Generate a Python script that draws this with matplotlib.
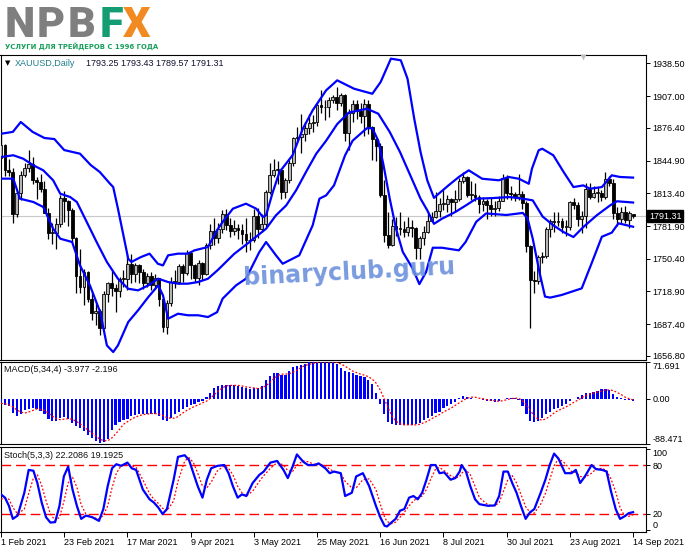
import numpy as np
import matplotlib
matplotlib.use("Agg")
import matplotlib.pyplot as plt

W, H = 691, 549
plt.rcParams["font.family"] = ["Liberation Sans", "DejaVu Sans"]
plt.rcParams["font.size"] = 6.5

BLUE = "#0000ff"
RED = "#ff0000"

# ---- XAUUSD daily bars, 1 Feb 2021 .. 14 Sep 2021 ----
opens = [
    1847, 1860, 1836, 1834, 1793, 1814, 1831, 1838, 1842, 1826,
    1824, 1818, 1794, 1775, 1775, 1784, 1809, 1806, 1797, 1770,
    1734, 1723, 1738, 1712, 1698, 1700, 1684, 1716, 1727, 1722,
    1719, 1731, 1731, 1745, 1736, 1744, 1738, 1727, 1734, 1725,
    1732, 1712, 1685, 1708, 1728, 1728, 1743, 1737, 1756, 1744,
    1732, 1746, 1736, 1764, 1777, 1770, 1779, 1793, 1783, 1777,
    1780, 1778, 1774, 1768, 1768, 1792, 1779, 1784, 1815, 1831,
    1836, 1836, 1815, 1826, 1843, 1867, 1868, 1870, 1876, 1881,
    1882, 1898, 1896, 1896, 1903, 1906, 1900, 1908, 1871, 1891,
    1899, 1893, 1888, 1899, 1877, 1866, 1859, 1812, 1773, 1764,
    1782, 1779, 1779, 1776, 1781, 1780, 1761, 1770, 1776, 1787,
    1791, 1796, 1803, 1803, 1808, 1805, 1808, 1825, 1829, 1812,
    1812, 1810, 1803, 1806, 1802, 1798, 1799, 1806, 1828, 1814,
    1813, 1810, 1813, 1804, 1763, 1730, 1729, 1752, 1753, 1779,
    1787, 1786, 1787, 1781, 1781, 1805, 1802, 1789, 1792, 1818,
    1810, 1814, 1814, 1810, 1827, 1823, 1794, 1789, 1795, 1788,
    1793.25]
highs = [
    1875, 1861, 1846, 1838, 1817, 1835, 1843, 1855, 1848, 1829,
    1832, 1825, 1799, 1785, 1790, 1812, 1816, 1807, 1799, 1771,
    1760, 1741, 1739, 1718, 1708, 1702, 1719, 1728, 1739, 1726,
    1733, 1740, 1755, 1755, 1746, 1745, 1741, 1737, 1738, 1736,
    1732, 1713, 1711, 1733, 1740, 1745, 1745, 1759, 1758, 1745,
    1749, 1747, 1766, 1784, 1790, 1785, 1797, 1798, 1790, 1788,
    1784, 1784, 1790, 1776, 1798, 1799, 1793, 1817, 1843, 1846,
    1844, 1838, 1828, 1845, 1868, 1877, 1890, 1882, 1890, 1889,
    1900, 1913, 1903, 1906, 1908, 1916, 1910, 1909, 1895, 1903,
    1903, 1900, 1904, 1903, 1878, 1868, 1862, 1826, 1795, 1789,
    1791, 1795, 1787, 1791, 1788, 1781, 1772, 1782, 1795, 1795,
    1815, 1809, 1818, 1812, 1809, 1817, 1828, 1834, 1830, 1825,
    1823, 1812, 1810, 1808, 1810, 1806, 1811, 1832, 1831, 1820,
    1815, 1832, 1816, 1806, 1764, 1739, 1754, 1757, 1781, 1789,
    1795, 1795, 1790, 1788, 1806, 1809, 1805, 1796, 1823, 1823,
    1820, 1819, 1817, 1834, 1830, 1827, 1800, 1800, 1801, 1796,
    1793.43]
lows = [
    1846, 1830, 1830, 1785, 1791, 1807, 1829, 1834, 1822, 1808,
    1815, 1794, 1769, 1765, 1760, 1781, 1786, 1782, 1767, 1717,
    1717, 1706, 1709, 1691, 1687, 1677, 1683, 1709, 1715, 1699,
    1714, 1723, 1720, 1727, 1728, 1727, 1721, 1723, 1720, 1721,
    1705, 1680, 1678, 1705, 1722, 1726, 1728, 1735, 1731, 1728,
    1725, 1730, 1735, 1760, 1764, 1766, 1775, 1778, 1771, 1773,
    1769, 1765, 1757, 1759, 1767, 1770, 1776, 1781, 1813, 1829,
    1822, 1808, 1809, 1823, 1840, 1864, 1852, 1864, 1870, 1872,
    1878, 1891, 1884, 1887, 1900, 1894, 1897, 1864, 1855, 1882,
    1885, 1881, 1869, 1870, 1845, 1844, 1810, 1767, 1761, 1763,
    1772, 1773, 1771, 1772, 1771, 1750, 1750, 1764, 1775, 1786,
    1790, 1791, 1797, 1795, 1792, 1795, 1806, 1823, 1810, 1807,
    1806, 1794, 1796, 1789, 1792, 1792, 1796, 1806, 1808, 1807,
    1806, 1807, 1798, 1757, 1684, 1717, 1726, 1746, 1751, 1771,
    1776, 1782, 1775, 1772, 1778, 1798, 1782, 1775, 1780, 1808,
    1809, 1805, 1806, 1808, 1820, 1789, 1782, 1785, 1785, 1780,
    1789.57]
closes = [
    1860, 1836, 1834, 1793, 1814, 1831, 1838, 1842, 1826, 1824,
    1818, 1794, 1775, 1775, 1784, 1809, 1806, 1797, 1770, 1734,
    1723, 1738, 1712, 1698, 1700, 1684, 1716, 1727, 1722, 1719,
    1731, 1731, 1745, 1736, 1744, 1738, 1727, 1734, 1725, 1732,
    1712, 1685, 1708, 1728, 1728, 1743, 1737, 1756, 1744, 1732,
    1746, 1736, 1764, 1777, 1770, 1779, 1793, 1783, 1777, 1780,
    1778, 1774, 1768, 1768, 1792, 1779, 1784, 1815, 1831, 1836,
    1836, 1815, 1826, 1843, 1867, 1868, 1870, 1876, 1881, 1882,
    1898, 1896, 1896, 1903, 1906, 1900, 1908, 1871, 1891, 1899,
    1893, 1888, 1899, 1877, 1866, 1859, 1812, 1773, 1764, 1782,
    1779, 1779, 1776, 1781, 1780, 1761, 1770, 1776, 1787, 1791,
    1796, 1803, 1803, 1808, 1805, 1808, 1825, 1829, 1812, 1812,
    1810, 1803, 1806, 1802, 1798, 1799, 1806, 1828, 1814, 1813,
    1810, 1813, 1804, 1763, 1730, 1729, 1752, 1753, 1779, 1787,
    1786, 1787, 1781, 1781, 1805, 1802, 1789, 1792, 1818, 1810,
    1814, 1814, 1810, 1827, 1823, 1794, 1789, 1795, 1788, 1794,
    1791.31]

# ---- Bollinger bands at bar positions ----
bb_up_x = [0, 3, 5, 8, 11, 13.5, 16, 20, 22.7, 25, 27.6, 28.4, 29.6, 30.9, 32.2, 33,
           35.4, 37.6, 39.7, 41, 42.3, 44.8, 47.3, 49, 52.4, 54.7, 56.1, 58.7, 62,
           64.6, 66.3, 67.1, 68.8, 70.5, 73.8, 76.4, 78.9, 82.3, 85.1, 89.4, 94, 96.1,
           98.7, 101.2, 102.9, 104.6, 106.2, 107.9, 109.6, 110.8, 113.3, 115.9, 118.4,
           121.8, 126, 128.5, 131.1, 133.6, 134.4, 136.1, 137, 139.8, 142.4, 144.9,
           147.4, 149.1, 152.1, 154.6, 156.7, 160]
bb_up = [1870.7, 1872.5, 1882, 1872.5, 1866.6, 1865.6, 1855, 1851.5, 1840.6, 1833.9,
         1822.6, 1819.4, 1798.6, 1774.5, 1750.4, 1747.3, 1752, 1755.3, 1745.6, 1744,
         1753.7, 1755.3, 1755.3, 1758.5, 1761.7, 1778, 1785.8, 1798.6, 1803.4, 1798.6,
         1790.6, 1792.2, 1814.6, 1833.9, 1850, 1875.6, 1893.3, 1912.5, 1922.1, 1914,
         1909.2, 1920.5, 1943, 1941.4, 1923.7, 1885.2, 1853.1, 1825.9, 1809, 1813,
         1821.1, 1829.1, 1835.5, 1827.4, 1825.9, 1829.1, 1827.4, 1822.6, 1837.1,
         1854.8, 1856.3, 1850, 1834, 1819.4, 1821, 1817.8, 1819.4, 1830.7, 1829.1,
         1828.5]
bb_mid_x = [0, 3.1, 5.6, 8.2, 10.7, 13.2, 15, 17.5, 19.2, 21.7, 24.2, 26.8, 29.6, 32.2,
            34.7, 37.3, 39.8, 42.3, 44.8, 47.3, 49.9, 52.4, 55, 59, 62.9, 67.1, 69.6,
            72.2, 74.7, 77.2, 79.8, 82.3, 85.1, 88, 92.6, 95.5, 98.4, 101, 103.6, 106.2,
            107.9, 109.6, 111.6, 115, 117.7, 120.3, 124.5, 128.7, 132.1, 134.6, 137.1,
            139.8, 142.4, 144.9, 147.4, 150.8, 154.2, 155.9, 158.4, 160]
bb_mid = [1848.3, 1850, 1846.7, 1840.3, 1835.5, 1825.9, 1813, 1809.8, 1805, 1785.8,
          1766.5, 1747.3, 1731.2, 1721.5, 1720, 1724.8, 1731.2, 1728, 1726.4, 1726.4,
          1728, 1731.2, 1740, 1755, 1766.5, 1779.3, 1792.2, 1801.8, 1816.3, 1833.9,
          1851.5, 1864, 1880, 1891, 1894.8, 1890, 1872.4, 1853.1, 1830.7, 1808.2, 1797,
          1784, 1788.9, 1795.4, 1801.8, 1808.2, 1808.8, 1809.8, 1808.2, 1806.6, 1791,
          1782.6, 1776.1, 1771.3, 1780.9, 1792.2, 1801.8, 1805.7, 1805, 1804.5]
bb_low_x = [0, 3.1, 4.8, 8.2, 10.7, 13.2, 15, 18, 20, 22.5, 25.1, 26.8, 28.4, 29.6, 32.2,
            34.7, 37.3, 39.8, 41, 42.3, 44.8, 47.3, 49.9, 52.4, 54.7, 56.1, 59.5, 62,
            65.4, 67.1, 69.6, 71.3, 75.5, 78.9, 80.6, 82.3, 84.3, 87.1, 89, 92.6, 94,
            95.5, 96.8, 98.4, 100, 101.7, 104.2, 105.9, 107.6, 109.3, 111.6, 115.9,
            117.6, 120.3, 122.8, 127.9, 132.1, 133.3, 134.6, 136.3, 137.7, 139, 141.9,
            147, 149.5, 152.1, 154.6, 156.3, 160]
bb_low = [1827.5, 1827.5, 1808.2, 1805, 1800.2, 1779.3, 1769.7, 1766.5, 1744, 1724.8,
          1699.1, 1667, 1660.6, 1667, 1689.5, 1700.8, 1713.6, 1724.8, 1715.2, 1692.7,
          1697.5, 1696, 1696, 1694.3, 1699, 1712, 1724.8, 1731.2, 1756.9, 1766.5,
          1753.7, 1745.6, 1753.7, 1782.6, 1808.2, 1811.4, 1821.1, 1850, 1864, 1876,
          1876, 1864, 1841, 1808.2, 1779.3, 1757, 1741, 1726, 1737.6, 1761, 1761,
          1758.5, 1766.5, 1786, 1794, 1792.5, 1794.5, 1789, 1769.7, 1737.6, 1714, 1713,
          1715.5, 1721.9, 1746, 1771.6, 1775.5, 1784.5, 1781.2]

# ---- MACD(5,34,4): histogram per bar and signal line ----
macd_hist = [
    -10, -12, -15, -28, -33, -30, -23, -20, -19, -20,
    -24, -30, -40, -44, -44, -38, -36, -40, -47, -53,
    -58, -64, -71, -77, -82, -86, -84, -78, -62, -52,
    -46, -42, -39, -34, -31, -30, -29, -29, -29, -30,
    -33, -41, -43, -37, -30, -25, -21, -17, -13, -10,
    -7, -4, 3, 12, 20, 25, 27, 27, 26, 26,
    25, 23, 20, 19, 21, 20, 25, 36, 45, 50,
    50, 47, 47, 54, 61, 64, 66, 68, 71, 72,
    73, 73, 72, 72, 71, 68, 60, 55, 52, 50,
    47, 45, 43, 37, 28, 12, -10, -30, -45, -49,
    -51, -51, -52, -51, -51, -50, -47, -41, -37, -33,
    -28, -25, -19, -15, -11, -6, 2, 5, 4, 2,
    0, -1, -2, -4, -5, -6, -4, 0, 2, 2,
    1, -3, -15, -30, -44, -45, -43, -37, -30, -25,
    -20, -18, -15, -10, -4, 0, 4, 7, 11, 12,
    14, 15, 18, 19, 17, 9, 3, 1, -2, -3,
    -3.977]
macd_signal = [
    -9, -10, -12, -16, -22, -26, -28, -26, -23, -20,
    -21, -23, -28, -34, -39, -41, -40, -39, -40, -44,
    -49, -55, -61, -67, -73, -79, -82, -82, -77, -69,
    -60, -50, -45, -40, -36, -33, -31, -30, -29, -29,
    -30, -33, -37, -38, -38, -34, -28, -23, -19, -15,
    -12, -8, -5, 1, 8, 15, 21, 25, 26, 26,
    26, 25, 23, 22, 21, 20, 21, 25, 31, 39,
    45, 48, 48, 49, 52, 56, 61, 65, 67, 69,
    71, 72, 72, 72, 72, 71, 68, 64, 59, 54,
    51, 48, 46, 43, 38, 30, 17, 0, -18, -34,
    -44, -49, -51, -51, -51, -51, -50, -47, -44, -39,
    -35, -31, -26, -22, -18, -13, -8, -3, 1, 3,
    3, 1, 0, -2, -3, -4, -5, -4, -2, 0,
    1, 1, -4, -12, -23, -34, -40, -42, -39, -34,
    -28, -23, -20, -16, -12, -7, -3, 2, 6, 9,
    11, 13, 15, 17, 17, 16, 12, 8, 3, 0,
    -2.196]

# ---- Stochastic(5,3,3): %K and %D read at bar positions ----
stoch_x = [0, 1, 2, 3, 4.2, 5.9, 7, 8.2, 9.2, 10.3, 11.4, 12.5, 13.7, 14.8, 15.9, 17,
           18.1, 19.2, 20.3, 21.5, 23.1, 24.8, 25.9, 27, 28.1, 29.2, 30.4, 32, 33.1,
           34.2, 35.9, 37.6, 38.7, 39.8, 40.9, 42, 43.7, 44.8, 46.5, 47.6, 48.7, 49.8,
           51, 52.1, 53.2, 54.8, 56.5, 57.6, 58.7, 59.9, 61, 62.1, 63.7, 65.4, 66.5,
           68.2, 69.9, 71.5, 72.6, 73.8, 74.9, 76.5, 77.7, 79.3, 80.4, 82.1, 83.2,
           84.3, 86, 87.1, 88.8, 89.9, 91.6, 93.2, 94.9, 96, 97.1, 97.7, 98.8, 99.9,
           101, 102.1, 103.3, 104.4, 105.5, 106.6, 107.7, 108.8, 110, 111, 112.2,
           113.8, 115, 116.1, 116.6, 117.7, 118.8, 120, 121.1, 123.3, 125, 126.1,
           127.2, 128.3, 129.4, 130.5, 131.6, 132.8, 133.9, 135, 136.6, 137.8, 138.9,
           140, 141.1, 142.8, 144.4, 145.5, 146.6, 147.8, 149.5, 150.6, 152.2, 153.3,
           154.4, 155.6, 156.7, 157.8, 158.9, 160]
stoch_k = [44, 40, 30, 14, 18, 46, 74, 73, 58, 34, 16, 9.5, 10, 30, 66, 78,
           50, 30, 14, 18, 16, 11.5, 26, 54, 76, 81, 79, 83, 76,
           74, 50, 38, 34, 28, 20, 26, 62, 90, 92, 86, 70, 54,
           40, 62, 76, 79, 80, 70, 54, 40, 44, 42, 58, 68, 72,
           83, 85, 74, 64, 78, 93, 84, 80, 80, 82, 76, 70,
           72, 70, 42, 46, 66, 70, 54, 30, 16, 5.5, 4.7, 9.5, 14,
           24, 26, 40, 42, 38, 46, 62, 80, 80, 70, 71,
           62, 64, 72, 80, 72, 54, 38, 32, 30, 30.5, 42,
           72, 72, 58, 46, 30, 14, 22, 26, 46, 62, 80,
           94, 88, 70, 70, 74, 58, 66, 80, 75, 74, 72,
           48, 26, 14, 17, 21, 22.2086]
stoch_d = [38, 40, 38, 28, 20, 26, 45, 64, 68, 55, 36, 20, 12, 16, 35, 58,
           65, 53, 31, 20, 16, 14, 18, 30, 52, 70, 79, 81, 79,
           77, 62, 45, 38, 33, 27, 24, 36, 60, 85, 89, 83, 70,
           54, 52, 59, 73, 79, 76, 68, 54, 46, 42, 48, 60, 67,
           76, 83, 80, 73, 72, 80, 85, 84, 81, 81, 79, 75,
           72, 70, 60, 52, 52, 62, 63, 50, 32, 16, 11, 8, 10,
           16, 22, 30, 36, 40, 42, 50, 63, 75, 77, 73,
           67, 64, 66, 70, 74, 68, 54, 40, 31, 30, 34,
           48, 62, 67, 58, 44, 29, 22, 21, 32, 45, 62,
           79, 88, 82, 72, 71, 66, 65, 70, 75, 76, 73,
           63, 47, 28, 18, 17, 19.1925]

price_ticks = [1938.50, 1907.00, 1876.40, 1844.90, 1813.40, 1781.90, 1750.40,
               1718.90, 1687.40, 1656.80]
date_pos = [0, 16, 32, 48, 64, 80, 96, 112, 128, 144, 160]
date_labels = ["1 Feb 2021", "23 Feb 2021", "17 Mar 2021", "9 Apr 2021", "3 May 2021",
               "25 May 2021", "16 Jun 2021", "8 Jul 2021", "30 Jul 2021",
               "23 Aug 2021", "14 Sep 2021"]
bid = closes[-1]


def px_rect(x0, y0, x1, y1):
    return [x0 / W, 1 - y1 / H, (x1 - x0) / W, (y1 - y0) / H]


def fx(x):
    return x / W


def fy(y):
    return 1 - y / H


fig = plt.figure(figsize=(W / 100, H / 100), dpi=100)
fig.patch.set_facecolor("white")

ax_p = fig.add_axes(px_rect(0.5, 55, 646, 360))
ax_m = fig.add_axes(px_rect(0.5, 362, 646, 444))
ax_s = fig.add_axes(px_rect(0.5, 447, 646, 532))

XMIN, XMAX = -0.13, 163.27
for ax in (ax_p, ax_m, ax_s):
    ax.set_xlim(XMIN, XMAX)
    for sp in ax.spines.values():
        sp.set_linewidth(0.8)
        sp.set_color("black")
    ax.yaxis.tick_right()
    ax.tick_params(axis="y", direction="out", length=3, width=0.7, pad=1.5,
                   labelsize=6.5, colors="black")
    ax.set_facecolor("white")

ax_p.tick_params(axis="x", bottom=False, labelbottom=False)
ax_m.tick_params(axis="x", bottom=False, labelbottom=False)

# ---- price panel ----
x = np.arange(len(closes))
o = np.array(opens)
h = np.array(highs)
lo = np.array(lows)
c = np.array(closes)
up = c >= o
body_lo = np.minimum(o, c)
body_h = np.maximum(np.abs(c - o), 0.8)

ax_p.axhline(bid, color="#c8c8c8", lw=0.8, zorder=1)
ax_p.vlines(x, lo, h, color="black", lw=0.9, zorder=3)
ax_p.bar(x[up], body_h[up], bottom=body_lo[up], width=0.72, color="#b4b4b4",
         edgecolor="black", linewidth=0.6, zorder=4)
ax_p.bar(x[~up], body_h[~up], bottom=body_lo[~up], width=0.72, color="black",
         edgecolor="black", linewidth=0.6, zorder=4)

for bx, by in ((bb_up_x, bb_up), (bb_mid_x, bb_mid), (bb_low_x, bb_low)):
    ax_p.plot(bx, by, color=BLUE, lw=1.6, zorder=5, solid_joinstyle="round")

ax_p.set_ylim(1652.95, 1946.5)
ax_p.set_yticks(price_ticks)
ax_p.set_yticklabels([f"{v:.2f}" for v in price_ticks])

# chart shift marker
ax_p.plot([147.3], [1944.2], marker="v", ms=5, color="#c0c0c0", mec="none",
          zorder=6, clip_on=False)

# current price box
ax_p.annotate(f"{bid:.2f}", xy=(1.0, bid), xycoords=("axes fraction", "data"),
              xytext=(2.2, 0), textcoords="offset points", va="center", ha="left",
              color="white", fontsize=6.5, annotation_clip=False,
              bbox=dict(boxstyle="square,pad=0.18", fc="black", ec="black"))

# ---- MACD panel ----
ax_m.bar(x, macd_hist, width=0.55, color=BLUE, linewidth=0, zorder=3)
ax_m.plot(x, macd_signal, color=RED, lw=0.9, ls=(0, (1.5, 1.5)), zorder=4)
ax_m.set_ylim(-88.471, 71.691)
ax_m.set_yticks([71.691, 0.0, -88.471])
ax_m.set_yticklabels(["71.691", "0.00", "-88.471"])
lab = ax_m.get_yticklabels()
lab[0].set_va("top")
lab[2].set_va("bottom")

# ---- Stochastic panel ----
ax_s.axhline(80, color=RED, lw=1.0, ls=(0, (7, 3.5)), zorder=2)
ax_s.axhline(20, color=RED, lw=1.0, ls=(0, (7, 3.5)), zorder=2)
ax_s.plot(stoch_x, stoch_d, color=RED, lw=0.9, ls=(0, (1.5, 1.5)), zorder=3)
ax_s.plot(stoch_x, stoch_k, color=BLUE, lw=1.6, zorder=4)
ax_s.set_ylim(-2.1, 102.1)
ax_s.set_yticks([100, 80, 20, 0])
ax_s.set_yticklabels(["100", "80", "20", "0"])
lab = ax_s.get_yticklabels()
lab[0].set_va("top")
lab[3].set_va("bottom")

ax_s.set_xticks(date_pos)
ax_s.set_xticklabels(date_labels)
ax_s.tick_params(axis="x", direction="out", length=3.5, width=0.7, pad=1,
                 labelsize=6.5, colors="black")
for t in ax_s.get_xticklabels():
    t.set_ha("left")

# ---- panel captions ----
fig.text(fx(5), fy(63), "\u25bc", fontsize=5, color="black", va="center",
         family="DejaVu Sans")
fig.text(fx(15), fy(63), "XAUUSD,Daily", fontsize=6.5, color="#1f7f8c", va="center")
fig.text(fx(86), fy(63), "1793.25 1793.43 1789.57 1791.31", fontsize=6.5,
         color="#101030", va="center")
fig.text(fx(4), fy(369), "MACD(5,34,4) -3.977 -2.196", fontsize=6.5, color="#101010",
         va="center")
fig.text(fx(4), fy(456), "Stoch(5,3,3) 22.2086 19.1925", fontsize=6.5,
         color="#101010", va="center")

# ---- logo ----
GRAY = "#7f7f7f"
GREEN = "#149d72"
ORANGE = "#f28a22"
logo_font = dict(fontsize=31, fontweight="heavy", va="baseline",
                 family=["Roboto", "DejaVu Sans"])
letters = [("N", 5, GRAY), ("P", 37, GRAY), ("B", 68, GRAY), ("F", 100, GREEN),
           ("X", 123, ORANGE)]
logo_txt = [fig.text(fx(px), fy(37), ch, color=col, **logo_font)
            for ch, px, col in letters]
tag = fig.text(fx(5), fy(46), "УСЛУГИ ДЛЯ ТРЕЙДЕРОВ С 1996 ГОДА", color="#18a05a",
               fontsize=6.5, fontweight="bold", va="center",
               family=["Liberation Sans Narrow", "DejaVu Sans"])

# watermark
wm = fig.text(fx(349), fy(272), "binaryclub.guru", color="#6c90dc", alpha=0.9,
              fontsize=20, fontweight="bold", ha="center", va="center",
              family="DejaVu Sans", zorder=20)

fig.canvas.draw()
r = fig.canvas.get_renderer()
bb = tag.get_window_extent(renderer=r)
tag.set_fontsize(tag.get_fontsize() * 153.0 / bb.width)
bb = wm.get_window_extent(renderer=r)
wm.set_fontsize(wm.get_fontsize() * 212.0 / bb.width)
wm.set_rotation(3)
for t, target in zip(logo_txt, [31, 30, 30, 24, 31]):
    bb = t.get_window_extent(renderer=r)
    t.set_fontsize(t.get_fontsize() * min(1.0, target / bb.width))

fig.savefig("out.png", dpi=100, facecolor="white")
